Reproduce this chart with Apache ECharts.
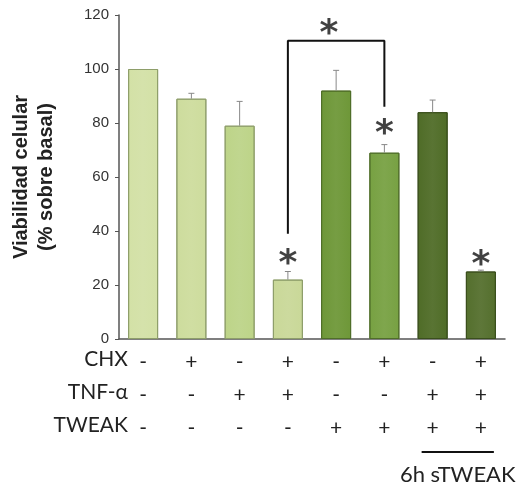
<!DOCTYPE html>
<html><head><meta charset="utf-8">
<script src="https://cdn.jsdelivr.net/npm/echarts@6/dist/echarts.min.js"></script>
<style>html,body{margin:0;padding:0;background:#fff}#c{width:516px;height:490px}</style>
</head><body><div id="c"></div>
<script>
const categories = ['C1','C2','C3','C4','C5','C6','C7','C8'];
const chx   = ['-','+','-','+','-','+','-','+'];
const tnf   = ['-','-','+','+','-','-','+','+'];
const tweak = ['-','-','-','-','+','+','+','+'];
const values = [100, 89, 79, 22, 92, 69, 84, 25];
const errors = [0, 2, 9, 3, 7.5, 3, 4.5, 0.5];
const barColors = ['#d3e1a6','#cddc9d','#bdd488','#c9d898','#6e9738','#77a142','#4f6c27','#546f2d'];
const borderColors = ['#8e9e6a','#8e9e6a','#8e9e6a','#8e9e6a','#4f6e28','#4f6e28','#3a4f1c','#3a4f1c'];
const yTicks = [0, 20, 40, 60, 80, 100, 120];
const rowLabels = ['CHX', 'TNF-α', 'TWEAK'];
// significance annotations: [x index, y value]
const asterisks = [[3, 31], [5, 79], [7, 30.5], [3.85, 116]];
const bracket = [[3, 39], [3, 110.5], [5, 110.5], [5, 86]];
const groupLabel = '6h sTWEAK';
const groupRange = [6, 7];

const chart = echarts.init(document.getElementById('c'), null, {renderer: 'canvas'});
const font = 'Liberation Sans, Arial, sans-serif';
const option = {
  animation: false,
  grid: {left: 119, right: 11, top: 15, bottom: 151, containLabel: false, outerBoundsMode: 'none'},
  xAxis: [{
    type: 'category', data: categories,
    axisLine: {onZero: false, lineStyle: {color: '#555', width: 1.5}},
    axisTick: {show: false},
    axisLabel: {
      margin: 7, interval: 0,
      formatter: (v, i) => `{s|${chx[i]}}\n{s|${tnf[i]}}\n{s|${tweak[i]}}`,
      rich: {s: {fontSize: 21, lineHeight: 33, fontFamily: 'Lato, sans-serif', color: '#222'}}
    }
  }, {
    type: 'value', min: -0.5, max: 7.5, show: false, axisLine: {onZero: false}
  }],
  yAxis: {
    type: 'value', min: 0, max: 120, interval: 20,
    axisLine: {show: true, onZero: false, lineStyle: {color: '#555', width: 1.5}},
    axisTick: {show: true, length: 4, lineStyle: {color: '#555'}},
    splitLine: {show: false},
    axisLabel: {fontSize: 15, fontFamily: font, color: '#333', margin: 10},
    name: 'Viabilidad celular\n(% sobre basal)',
    nameLocation: 'middle', nameGap: 60,
    nameTextStyle: {fontSize: 20, fontWeight: 'bold', fontFamily: font, color: '#222', lineHeight: 25}
  },
  series: [{
    type: 'bar', barWidth: 30,
    data: values.map((v, i) => ({value: v, itemStyle: {
      color: {type: 'linear', x: 0, y: 0, x2: 1, y2: 0, colorStops: [
        {offset: 0, color: barColors[i]}, {offset: 0.5, color: echarts.color.lift(barColors[i], 0.06)}, {offset: 1, color: barColors[i]}]},
      borderColor: borderColors[i], borderWidth: 1}}))
  }, {
    type: 'custom',
    data: values.map((v, i) => [i, v, errors[i]]),
    encode: {x: 0, y: 1},
    renderItem: (params, api) => {
      const i = api.value(0), v = api.value(1), e = +api.value(2);
      if (!(e > 0)) return null;
      const p0 = api.coord([i, v]), p1 = api.coord([i, v + e]);
      return {type: 'group', children: [
        {type: 'line', shape: {x1: p0[0], y1: p0[1], x2: p1[0], y2: p1[1]}, style: {stroke: '#888', lineWidth: 1}},
        {type: 'line', shape: {x1: p1[0] - 3, y1: p1[1], x2: p1[0] + 3, y2: p1[1]}, style: {stroke: '#888', lineWidth: 1}}
      ]};
    },
    z: 3
  }, {
    type: 'line', xAxisIndex: 1, data: bracket, symbol: 'none',
    lineStyle: {color: '#111', width: 2}, z: 4
  }, {
    type: 'scatter', xAxisIndex: 1, data: asterisks, symbolSize: 1,
    itemStyle: {color: 'transparent'},
    label: {show: true, position: 'inside', formatter: '*', fontSize: 36, fontWeight: 'bold',
      fontFamily: 'DejaVu Sans', color: '#111', offset: [0, 9]}, z: 5
  }]
};
chart.setOption(option);

const pA = chart.convertToPixel({xAxisIndex: 0, yAxisIndex: 0}, [groupRange[0], 0]);
const pB = chart.convertToPixel({xAxisIndex: 0, yAxisIndex: 0}, [groupRange[1], 0]);
const rowYs = [361, 394, 427];
chart.setOption({graphic: [
  ...rowLabels.map((t, k) => ({type: 'text', right: 516 - 128, y: rowYs[k] - 12,
    style: {text: t, fontSize: 21, fontFamily: 'Lato, sans-serif', fill: '#222', textAlign: 'right'}})),
  {type: 'line', shape: {x1: pA[0] - 11, y1: 452, x2: pB[0] + 13, y2: 452}, style: {stroke: '#111', lineWidth: 2}},
  {type: 'text', x: (pA[0] + pB[0]) / 2 + 1, y: 464, style: {text: groupLabel, fontSize: 22, fontFamily: 'Lato, sans-serif', fill: '#222', textAlign: 'center'}}
]});
</script></body></html>
